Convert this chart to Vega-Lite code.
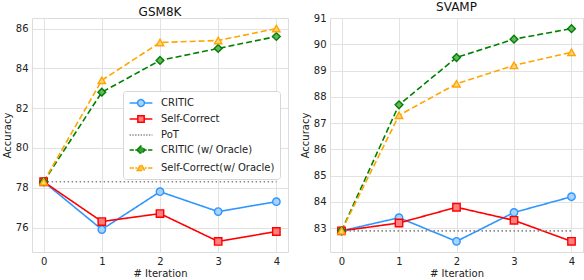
{
  "$schema": "https://vega.github.io/schema/vega-lite/v6.json",
  "background": "white",
  "padding": {"left": 1, "top": 0, "right": 2, "bottom": 0},
  "spacing": 10,
  "datasets": {
    "gsm": [
      {"iter": 0, "acc": 78.3, "series": "CRITIC"},
      {"iter": 1, "acc": 75.9, "series": "CRITIC"},
      {"iter": 2, "acc": 77.8, "series": "CRITIC"},
      {"iter": 3, "acc": 76.8, "series": "CRITIC"},
      {"iter": 4, "acc": 77.3, "series": "CRITIC"},
      {"iter": 0, "acc": 78.3, "series": "Self-Correct"},
      {"iter": 1, "acc": 76.3, "series": "Self-Correct"},
      {"iter": 2, "acc": 76.7, "series": "Self-Correct"},
      {"iter": 3, "acc": 75.3, "series": "Self-Correct"},
      {"iter": 4, "acc": 75.8, "series": "Self-Correct"},
      {"iter": 0, "acc": 78.3, "series": "PoT"},
      {"iter": 1, "acc": 78.3, "series": "PoT"},
      {"iter": 2, "acc": 78.3, "series": "PoT"},
      {"iter": 3, "acc": 78.3, "series": "PoT"},
      {"iter": 4, "acc": 78.3, "series": "PoT"},
      {"iter": 0, "acc": 78.3, "series": "CRITIC (w/ Oracle)"},
      {"iter": 1, "acc": 82.8, "series": "CRITIC (w/ Oracle)"},
      {"iter": 2, "acc": 84.4, "series": "CRITIC (w/ Oracle)"},
      {"iter": 3, "acc": 85.0, "series": "CRITIC (w/ Oracle)"},
      {"iter": 4, "acc": 85.6, "series": "CRITIC (w/ Oracle)"},
      {"iter": 0, "acc": 78.3, "series": "Self-Correct(w/ Oracle)"},
      {"iter": 1, "acc": 83.4, "series": "Self-Correct(w/ Oracle)"},
      {"iter": 2, "acc": 85.3, "series": "Self-Correct(w/ Oracle)"},
      {"iter": 3, "acc": 85.4, "series": "Self-Correct(w/ Oracle)"},
      {"iter": 4, "acc": 86.0, "series": "Self-Correct(w/ Oracle)"}
    ],
    "svamp": [
      {"iter": 0, "acc": 82.9, "series": "CRITIC"},
      {"iter": 1, "acc": 83.4, "series": "CRITIC"},
      {"iter": 2, "acc": 82.5, "series": "CRITIC"},
      {"iter": 3, "acc": 83.6, "series": "CRITIC"},
      {"iter": 4, "acc": 84.2, "series": "CRITIC"},
      {"iter": 0, "acc": 82.9, "series": "Self-Correct"},
      {"iter": 1, "acc": 83.2, "series": "Self-Correct"},
      {"iter": 2, "acc": 83.8, "series": "Self-Correct"},
      {"iter": 3, "acc": 83.3, "series": "Self-Correct"},
      {"iter": 4, "acc": 82.5, "series": "Self-Correct"},
      {"iter": 0, "acc": 82.9, "series": "PoT"},
      {"iter": 1, "acc": 82.9, "series": "PoT"},
      {"iter": 2, "acc": 82.9, "series": "PoT"},
      {"iter": 3, "acc": 82.9, "series": "PoT"},
      {"iter": 4, "acc": 82.9, "series": "PoT"},
      {"iter": 0, "acc": 82.9, "series": "CRITIC (w/ Oracle)"},
      {"iter": 1, "acc": 87.7, "series": "CRITIC (w/ Oracle)"},
      {"iter": 2, "acc": 89.5, "series": "CRITIC (w/ Oracle)"},
      {"iter": 3, "acc": 90.2, "series": "CRITIC (w/ Oracle)"},
      {"iter": 4, "acc": 90.6, "series": "CRITIC (w/ Oracle)"},
      {"iter": 0, "acc": 82.9, "series": "Self-Correct(w/ Oracle)"},
      {"iter": 1, "acc": 87.3, "series": "Self-Correct(w/ Oracle)"},
      {"iter": 2, "acc": 88.5, "series": "Self-Correct(w/ Oracle)"},
      {"iter": 3, "acc": 89.2, "series": "Self-Correct(w/ Oracle)"},
      {"iter": 4, "acc": 89.7, "series": "Self-Correct(w/ Oracle)"}
    ]
  },
  "config": {
    "font": "DejaVu Sans",
    "view": {"stroke": "#dcdcdc", "strokeWidth": 1},
    "axis": {
      "gridColor": "#e2e2e2",
      "gridWidth": 1,
      "domain": false,
      "ticks": false,
      "labelFontSize": 10,
      "labelColor": "#222",
      "titleFontSize": 10,
      "titleFontWeight": "normal",
      "titleColor": "#222",
      "labelPadding": 4,
      "titlePadding": 3
    },
    "axisX": {"labelPadding": 4, "titlePadding": 2},
    "title": {"fontSize": 12, "fontWeight": "normal", "color": "#111", "offset": -1},
    "legend": {
      "fillColor": "white",
      "strokeColor": "#d6d6d6",
      "cornerRadius": 3,
      "padding": 5,
      "labelFontSize": 10,
      "labelColor": "#222",
      "rowPadding": 2,
      "symbolSize": 144,
      "symbolOffset": 6,
      "labelOffset": 13,
      "symbolStrokeWidth": 1.5
    }
  },
  "resolve": {
    "scale": {"color": "independent", "strokeDash": "independent"},
    "legend": {"color": "independent", "strokeDash": "independent"}
  },
  "hconcat": [
    {
      "title": "GSM8K",
      "width": 256,
      "height": 234,
      "data": {"name": "gsm"},
      "encoding": {
        "x": {"field": "iter", "type": "quantitative", "title": "# Iteration",
              "scale": {"domain": [-0.2, 4.2], "nice": false, "zero": false},
              "axis": {"values": [0, 1, 2, 3, 4], "format": "d"}},
        "y": {"field": "acc", "type": "quantitative", "title": "Accuracy",
              "scale": {"domain": [74.77, 86.53], "nice": false, "zero": false},
              "axis": {"values": [76, 78, 80, 82, 84, 86]}}
      },
      "layer": [
        {
          "mark": {"type": "line", "strokeWidth": 1.6},
          "encoding": {
            "color": {"field": "series", "type": "nominal",
                  "legend": {"orient": "none", "legendX": 91, "legendY": 73, "title": null,
                    "symbolSize": 144, "symbolOffset": 6, "labelOffset": 13, "rowPadding": 2,
                    "encode": {"symbols": {"update": {
                      "size": {"value": 144},
                      "strokeWidth": {"value": 1.5},
                      "strokeDash": {"value": [1, 0]},
                      "shape": {"signal": "datum.value === 'CRITIC' ? 'M-1.9,0L-0.57,0M0.57,0L1.9,0M-0.57,0A0.57,0.57 0 1,0 0.57,0A0.57,0.57 0 1,0 -0.57,0Z' : datum.value === 'Self-Correct' ? 'M-1.9,0L-0.53,0M0.53,0L1.9,0M-0.53,-0.53L0.53,-0.53L0.53,0.53L-0.53,0.53Z' : datum.value === 'PoT' ? 'M-1.9,0h0.23M-1.44,0h0.23M-0.98,0h0.23M-0.52,0h0.23M-0.06,0h0.23M0.4,0h0.23M0.86,0h0.23M1.32,0h0.23M1.78,0h0.12' : datum.value === 'CRITIC (w/ Oracle)' ? 'M-1.9,0L-1.18,0M-0.95,0L-0.68,0M0.68,0L0.95,0M1.18,0L1.9,0M-0.68,0L0,-0.68L0.68,0L0,0.68Z' : 'M-1.9,0L-1.18,0M-0.95,0L-0.63,0M0.63,0L0.95,0M1.18,0L1.9,0M-0.63,0.42L0,-0.68L0.63,0.42Z'"},
                      "fill": {"signal": "datum.value === 'CRITIC' ? '#a8d3ff' : datum.value === 'Self-Correct' ? '#ff8080' : datum.value === 'PoT' ? 'transparent' : datum.value === 'CRITIC (w/ Oracle)' ? '#33a033' : '#ffc850'"},
                      "fillOpacity": {"value": 1}
                    }}}},
                  "scale": {"domain": ["CRITIC", "Self-Correct", "PoT", "CRITIC (w/ Oracle)", "Self-Correct(w/ Oracle)"],
                            "range": ["#2f96ff", "#ff0000", "#888888", "#008000", "#ffa500"]}},
            "strokeDash": {"field": "series", "type": "nominal", "legend": null,
                           "scale": {"domain": ["CRITIC", "Self-Correct", "PoT", "CRITIC (w/ Oracle)", "Self-Correct(w/ Oracle)"],
                                     "range": [[1, 0], [1, 0], [1.5, 2.5], [6, 3], [6, 3]]}}
          }
        },
        {"transform": [{"filter": "datum.series === 'CRITIC'"}],
         "mark": {"type": "point", "shape": "circle", "size": 55, "strokeWidth": 1.4, "stroke": "#2f96ff", "fill": "#a8d3ff", "fillOpacity": 1, "opacity": 1}},
        {"transform": [{"filter": "datum.series === 'Self-Correct'"}],
         "mark": {"type": "point", "shape": "square", "size": 55, "strokeWidth": 1.4, "stroke": "#ff0000", "fill": "#ff8080", "fillOpacity": 1, "opacity": 1}},
        {"transform": [{"filter": "datum.series === 'CRITIC (w/ Oracle)'"}],
         "mark": {"type": "point", "shape": "diamond", "size": 60, "strokeWidth": 1.4, "stroke": "#008000", "fill": "#66b366", "fillOpacity": 1, "opacity": 1}},
        {"transform": [{"filter": "datum.series === 'Self-Correct(w/ Oracle)'"}],
         "mark": {"type": "point", "shape": "triangle-up", "size": 55, "strokeWidth": 1.4, "stroke": "#ffa500", "fill": "#ffd280", "fillOpacity": 1, "opacity": 1}}
      ]
    },
    {
      "title": "SVAMP",
      "width": 253,
      "height": 234,
      "data": {"name": "svamp"},
      "encoding": {
        "x": {"field": "iter", "type": "quantitative", "title": "# Iteration",
              "scale": {"domain": [-0.2, 4.2], "nice": false, "zero": false},
              "axis": {"values": [0, 1, 2, 3, 4], "format": "d"}},
        "y": {"field": "acc", "type": "quantitative", "title": "Accuracy",
              "scale": {"domain": [82.095, 91.005], "nice": false, "zero": false},
              "axis": {"values": [83, 84, 85, 86, 87, 88, 89, 90, 91]}}
      },
      "layer": [
        {
          "mark": {"type": "line", "strokeWidth": 1.6},
          "encoding": {
            "color": {"field": "series", "type": "nominal", "legend": null,
                  "scale": {"domain": ["CRITIC", "Self-Correct", "PoT", "CRITIC (w/ Oracle)", "Self-Correct(w/ Oracle)"],
                            "range": ["#2f96ff", "#ff0000", "#888888", "#008000", "#ffa500"]}},
            "strokeDash": {"field": "series", "type": "nominal", "legend": null,
                           "scale": {"domain": ["CRITIC", "Self-Correct", "PoT", "CRITIC (w/ Oracle)", "Self-Correct(w/ Oracle)"],
                                     "range": [[1, 0], [1, 0], [1.5, 2.5], [6, 3], [6, 3]]}}
          }
        },
        {"transform": [{"filter": "datum.series === 'CRITIC'"}],
         "mark": {"type": "point", "shape": "circle", "size": 55, "strokeWidth": 1.4, "stroke": "#2f96ff", "fill": "#a8d3ff", "fillOpacity": 1, "opacity": 1}},
        {"transform": [{"filter": "datum.series === 'Self-Correct'"}],
         "mark": {"type": "point", "shape": "square", "size": 55, "strokeWidth": 1.4, "stroke": "#ff0000", "fill": "#ff8080", "fillOpacity": 1, "opacity": 1}},
        {"transform": [{"filter": "datum.series === 'CRITIC (w/ Oracle)'"}],
         "mark": {"type": "point", "shape": "diamond", "size": 60, "strokeWidth": 1.4, "stroke": "#008000", "fill": "#66b366", "fillOpacity": 1, "opacity": 1}},
        {"transform": [{"filter": "datum.series === 'Self-Correct(w/ Oracle)'"}],
         "mark": {"type": "point", "shape": "triangle-up", "size": 55, "strokeWidth": 1.4, "stroke": "#ffa500", "fill": "#ffd280", "fillOpacity": 1, "opacity": 1}}
      ]
    }
  ]
}
